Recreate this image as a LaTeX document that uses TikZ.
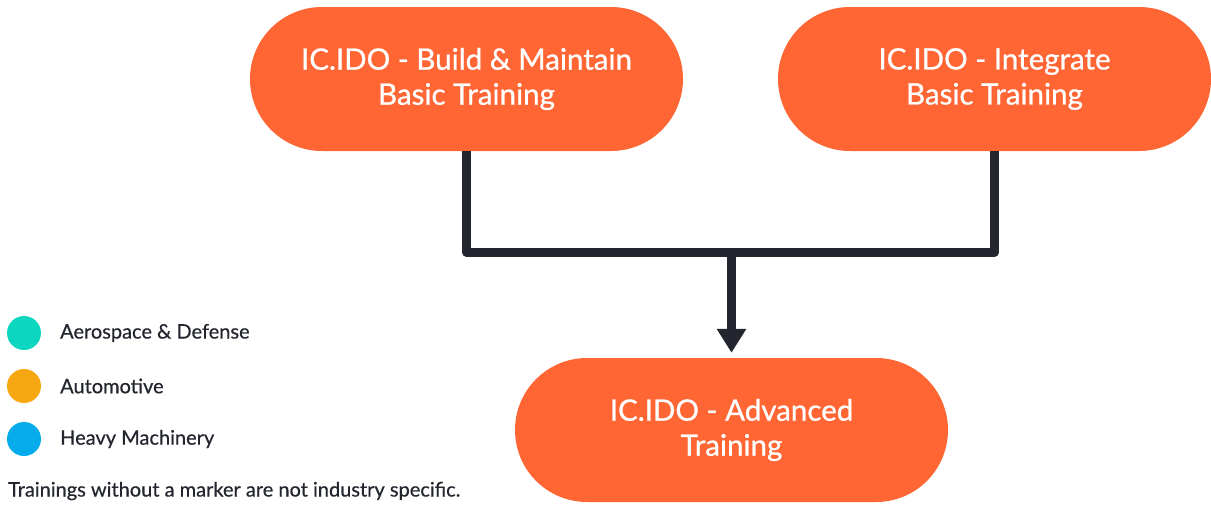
\documentclass[tikz,border=0pt]{standalone}
\usepackage{fontspec}
\setmainfont{Lato}
\newfontfamily\medfont{Lato}[FakeBold=0.8]
\newfontfamily\legfont{Lato}[FakeBold=0.5]
\usetikzlibrary{arrows.meta}
\definecolor{boxorange}{HTML}{FF6634}
\definecolor{linedark}{HTML}{23252F}
\definecolor{teal}{HTML}{0CD6C0}
\definecolor{amber}{HTML}{F5A70F}
\definecolor{skyblue}{HTML}{05ACEC}
\tikzset{
  pill/.style={fill=boxorange, draw=none, minimum width=433pt, minimum height=144pt,
    rounded corners=72pt, text=white, align=center, inner sep=0pt,
    font=\medfont\fontsize{29.5}{35}\selectfont},
  conn/.style={draw=linedark, line width=9pt, line join=round},
  dot/.style={circle, fill=#1, minimum size=34pt, inner sep=0pt, draw=none},
  legtext/.style={anchor=west, text=linedark, font=\legfont\fontsize{20}{22}\selectfont, inner sep=0pt},
}
\begin{document}
\begin{tikzpicture}[x=1pt,y=-1pt]
\useasboundingbox (0,0) rectangle (1211,504);
\node[pill] (b1) at (466.5,79) {IC.IDO - Build \& Maintain\\Basic Training};
\node[pill] (b2) at (994.5,79) {IC.IDO - Integrate\\Basic Training};
\node[pill] (b3) at (731.5,430) {IC.IDO - Advanced\\Training};
\coordinate (j) at (731.5,252);
\draw[conn] (b1.south) |- (j) -| (b2.south);
\draw[conn, -{Triangle[width=28pt,length=24pt]}, shorten >=5pt] (j) -- (b3.north);
\node[dot=teal] (d1) at (24,333) {};
\node[dot=amber] (d2) at (24,386) {};
\node[dot=skyblue] (d3) at (24,439) {};
\node[legtext] (t1) at (60,333) {Aerospace \& Defense};
\node[legtext] (t2) at (60,386) {Automotive};
\node[legtext] (t3) at (60,439) {Heavy Machinery};
\node[legtext] (t4) at (8,491) {Trainings without a marker are not industry specific.};
\end{tikzpicture}
\end{document}
